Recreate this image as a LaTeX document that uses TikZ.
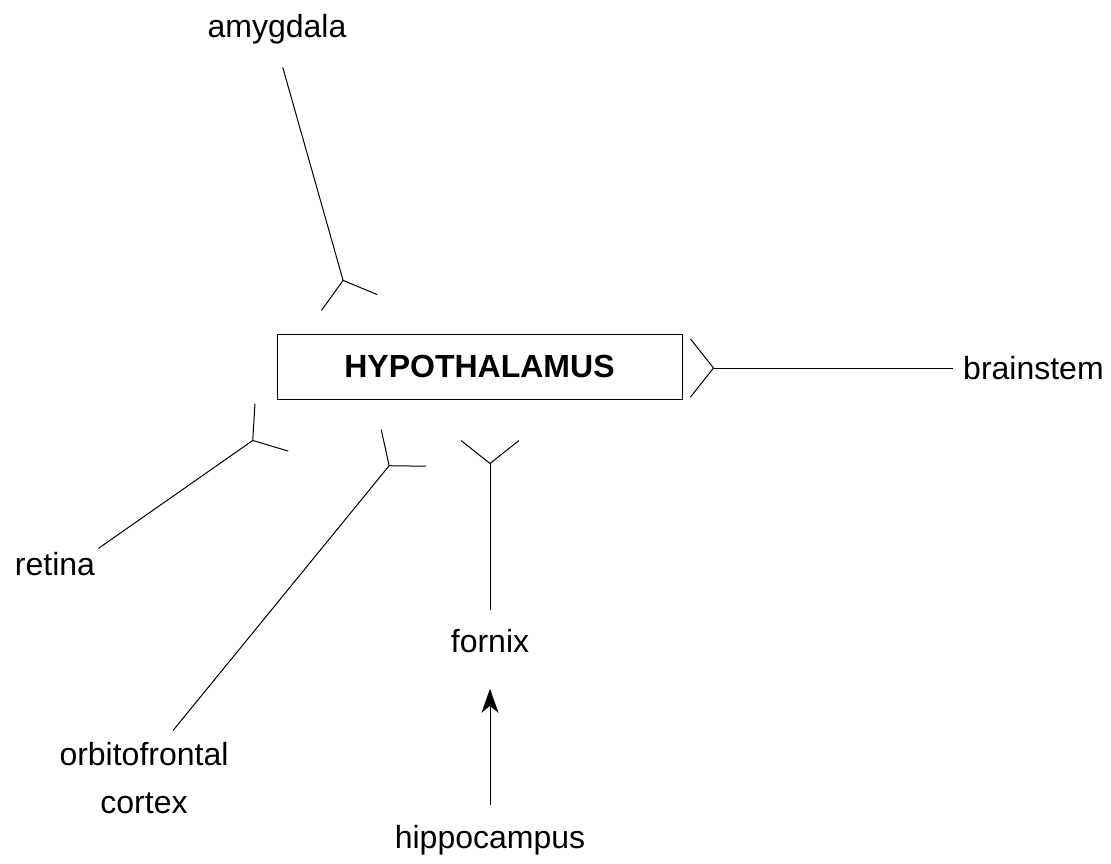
\documentclass[tikz,border=0pt]{standalone}
\usepackage{fontspec}
\setmainfont{Liberation Sans}
\usetikzlibrary{arrows.meta}

\tikzset{
  lbl/.style={font=\fontsize{32}{48}\selectfont, inner sep=3.3pt},
  fork/.style={line width=1pt, -{Straight Barb[reversed, length=23pt, width=58pt]}},
  pointer/.style={line width=1pt, -{Stealth[length=24pt, width=17pt, inset=7pt]}}
}

\begin{document}
\begin{tikzpicture}[x=1pt, y=-1pt]
		\useasboundingbox (0,0) rectangle (1111,863);
		\node[draw, line width=1pt, minimum width=405pt, minimum height=65pt,
		      font=\bfseries\fontsize{32}{38}\selectfont] (hyp) at (479.5,366.5) {HYPOTHALAMUS};
		
		\node[lbl, anchor=base] (amygdala) at (277,37) {amygdala};
		\node[lbl, anchor=west] (brainstem) at (959.7,368) {brainstem};
		\node[lbl, anchor=base] (retina) at (55,575) {retina};
		\node[lbl, anchor=base, align=center] (orbito) at (144,813) {orbitofrontal\\cortex};
		\node[lbl, anchor=base] (fornix) at (490,652) {fornix};
		\node[lbl, anchor=base] (hippo) at (490,848) {hippocampus};
		
		\coordinate (amyEnd) at (349.5,303);
		\coordinate (brainEnd) at (690,368);
		\coordinate (retinaEnd) at (272,427);
		\coordinate (orbitoEnd) at (404,447.5);
		\coordinate (fornixEnd) at (490,440);
		
		\draw[fork, shorten <=21pt] (amygdala.south) -- (amyEnd);
		\draw[fork, shorten <=7pt] (brainstem.west) -- (brainEnd);
		\draw[fork] (retina.north east) -- (retinaEnd);
		\draw[fork, shorten <=10pt] (orbito.60) -- (orbitoEnd);
		\draw[fork, shorten <=15pt] (fornix.north) -- (fornixEnd);
		\draw[pointer, shorten <=16pt, shorten >=33pt] (hippo.north) -- (fornix.south);
\end{tikzpicture}
\end{document}
